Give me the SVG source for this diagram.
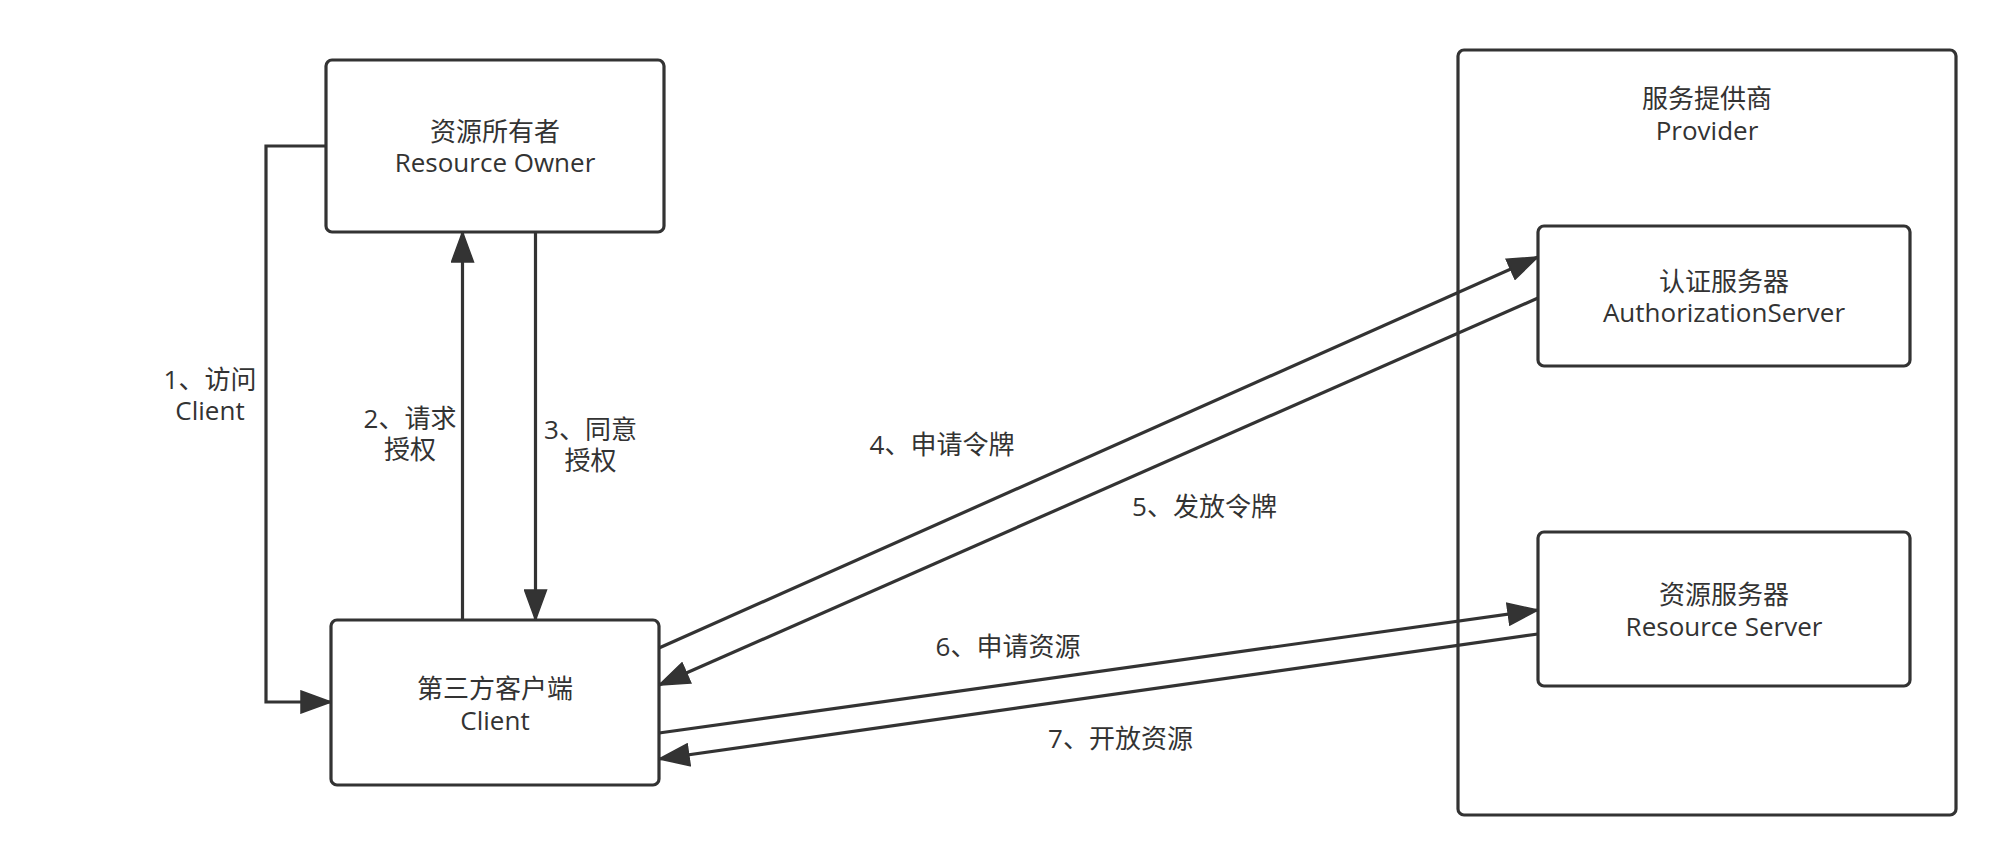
<svg xmlns="http://www.w3.org/2000/svg" width="2006" height="866" viewBox="0 0 2006 866">
<defs>
<style>
.box{fill:#ffffff;stroke:#333333;stroke-width:3.2}
.edge{fill:none;stroke:#333333;stroke-width:3.2}
text{font-family:"Open Sans","Noto Sans CJK SC",sans-serif;font-size:26px;fill:#333333;text-anchor:middle}
</style>
<marker id="arr" markerUnits="userSpaceOnUse" markerWidth="32" markerHeight="24" viewBox="0 0 32 24" refX="31" refY="12" orient="auto">
<path d="M1,1 L31,12 L1,23 Z" fill="#333333" stroke="#333333" stroke-width="1.5" stroke-linejoin="miter"/>
</marker>
</defs>
<rect width="2006" height="866" fill="#ffffff"/>
<g id="provider">
<rect class="box" x="1458" y="50" width="498" height="765" rx="6"/>
<text x="1707" y="108">服务提供商<tspan x="1707" y="140">Provider</tspan></text>
</g>
<g id="resource-owner">
<rect class="box" x="326" y="60" width="338" height="172" rx="6"/>
<text x="495" y="140.5">资源所有者<tspan x="495" y="172">Resource Owner</tspan></text>
</g>
<g id="client">
<rect class="box" x="331" y="620" width="328" height="165" rx="6"/>
<text x="495" y="698">第三方客户端<tspan x="495" y="730">Client</tspan></text>
</g>
<g id="auth-server">
<rect class="box" x="1538" y="226" width="372" height="140" rx="6"/>
<text x="1724" y="291">认证服务器<tspan x="1724" y="322">AuthorizationServer</tspan></text>
</g>
<g id="resource-server">
<rect class="box" x="1538" y="532" width="372" height="154" rx="6"/>
<text x="1724" y="604">资源服务器<tspan x="1724" y="636">Resource Server</tspan></text>
</g>
<g id="connectors">
<path class="edge" d="M326,146 L266,146 L266,702 L331,702" marker-end="url(#arr)"/>
<path class="edge" d="M462.5,620 L462.5,232" marker-end="url(#arr)"/>
<path class="edge" d="M535.5,232 L535.5,620" marker-end="url(#arr)"/>
<path class="edge" d="M659,648 L1538,257" marker-end="url(#arr)"/>
<path class="edge" d="M1538,298 L659,685" marker-end="url(#arr)"/>
<path class="edge" d="M659,733 L1538,610" marker-end="url(#arr)"/>
<path class="edge" d="M1538,634 L659,759" marker-end="url(#arr)"/>
</g>
<g id="labels">
<text x="210" y="389">1、访问<tspan x="210" y="419.5">Client</tspan></text>
<text x="410" y="428">2、请求<tspan x="410" y="459">授权</tspan></text>
<text x="590.5" y="439">3、同意<tspan x="590.5" y="470">授权</tspan></text>
<text x="942" y="453.5">4、申请令牌</text>
<text x="1204.5" y="516">5、发放令牌</text>
<text x="1008" y="656">6、申请资源</text>
<text x="1120.5" y="748">7、开放资源</text>
</g>
</svg>
